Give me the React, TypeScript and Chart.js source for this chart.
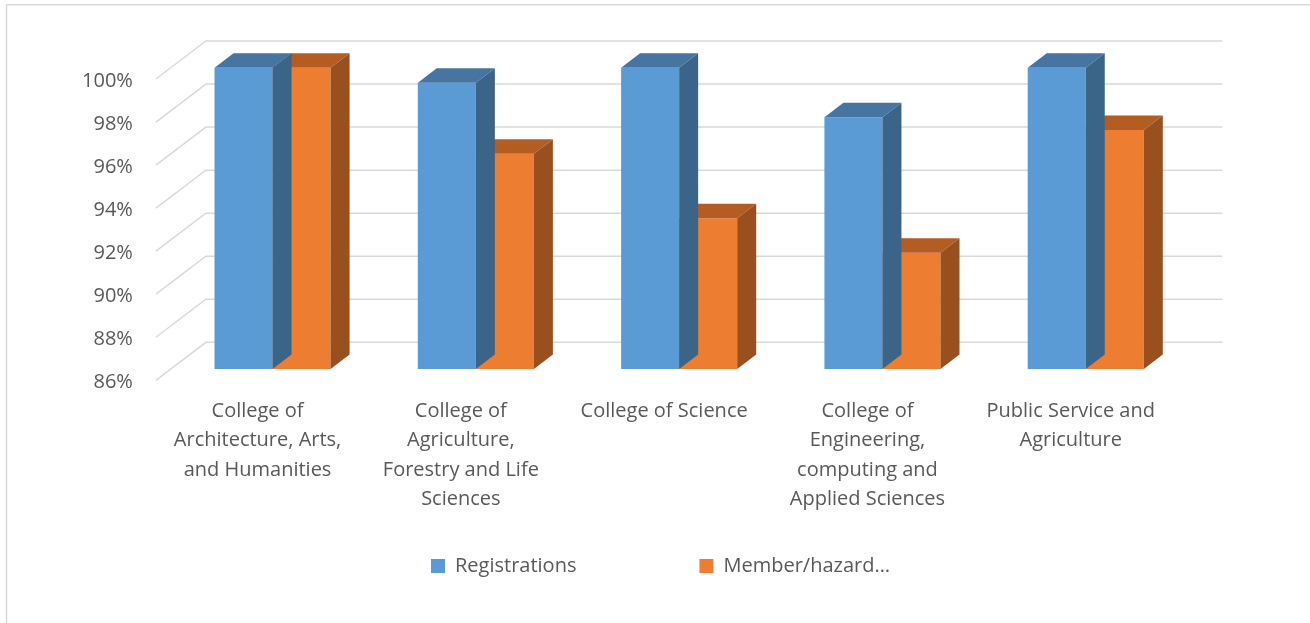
import React, { useEffect, useRef } from 'react';
import { Chart, registerables } from 'chart.js';

Chart.register(...registerables);

// ---- data ----
const categories: string[][] = [
  ['College of', 'Architecture, Arts,', 'and Humanities'],
  ['College of', 'Agriculture,', 'Forestry and Life', 'Sciences'],
  ['College of Science'],
  ['College of', 'Engineering,', 'computing and', 'Applied Sciences'],
  ['Public Service and', 'Agriculture'],
];
const registrations = [100, 99.3, 100, 97.7, 100];
const memberHazard = [100, 96.0, 93.0, 91.4, 97.1];
const seriesNames = ['Registrations', 'Member/hazard…'];
const yMin = 86;
const yMax = 100;
const yStep = 2;

// ---- styles ----
const FRONT = ['#5B9BD5', '#ED7D31'];
const TOP = ['#4675A1', '#B45D22'];
const SIDE = ['#3A6488', '#9A4F1E'];
const GRID = '#d9d9d9';
const TEXT = '#595959';
const FONT = "'Open Sans', sans-serif";

const DEPTH_DX = 19;
const DEPTH_DY = -14.5;
const BACK_DX = 35;
const BACK_DY = -26.7;
const FRONT_DX = -15;
const FRONT_DY = 11.3;

const threeD = {
  id: 'threeD',
  beforeDraw(chart: any) {
    const ctx = chart.ctx;
    ctx.save();
    ctx.strokeStyle = GRID;
    ctx.lineWidth = 1.5;
    ctx.beginPath();
    ctx.moveTo(6.5, chart.height);
    ctx.lineTo(6.5, 4.75);
    ctx.lineTo(chart.width, 4.75);
    ctx.stroke();
    ctx.restore();
  },
  beforeDatasetsDraw(chart: any) {
    const { ctx, chartArea } = chart;
    const y = chart.scales.y;
    ctx.save();
    ctx.strokeStyle = GRID;
    ctx.lineWidth = 1.5;
    y.ticks.forEach((t: any) => {
      const py = y.getPixelForValue(t.value);
      ctx.beginPath();
      ctx.moveTo(chartArea.left + FRONT_DX, py + FRONT_DY);
      ctx.lineTo(chartArea.left + BACK_DX, py + BACK_DY);
      ctx.lineTo(chartArea.right + BACK_DX, py + BACK_DY);
      ctx.stroke();
    });
    ctx.restore();
  },
  afterDatasetDraw(chart: any, args: any) {
    const i = args.index;
    const ctx = chart.ctx;
    const meta = chart.getDatasetMeta(i);
    ctx.save();
    meta.data.forEach((bar: any) => {
      const p = bar.getProps(['x', 'y', 'base', 'width'], true);
      const l = p.x - p.width / 2;
      const r = p.x + p.width / 2;
      const t = p.y;
      const b = p.base;
      // top face
      ctx.fillStyle = TOP[i];
      ctx.beginPath();
      ctx.moveTo(l, t);
      ctx.lineTo(l + DEPTH_DX, t + DEPTH_DY);
      ctx.lineTo(r + DEPTH_DX, t + DEPTH_DY);
      ctx.lineTo(r, t);
      ctx.closePath();
      ctx.fill();
      // side face
      ctx.fillStyle = SIDE[i];
      ctx.beginPath();
      ctx.moveTo(r, t);
      ctx.lineTo(r + DEPTH_DX, t + DEPTH_DY);
      ctx.lineTo(r + DEPTH_DX, b + DEPTH_DY);
      ctx.lineTo(r, b);
      ctx.closePath();
      ctx.fill();
    });
    ctx.restore();
  },
};

export default function App() {
  const canvasRef = useRef<HTMLCanvasElement | null>(null);

  useEffect(() => {
    document.body.style.margin = '0';
    document.body.style.overflow = 'hidden';
    const canvas = canvasRef.current;
    if (!canvas) return;
    const chart = new Chart(canvas, {
      type: 'bar',
      data: {
        labels: categories,
        datasets: [
          {
            label: seriesNames[0],
            data: registrations,
            backgroundColor: FRONT[0],
            borderWidth: 0,
            base: yMin,
          } as any,
          {
            label: seriesNames[1],
            data: memberHazard,
            backgroundColor: FRONT[1],
            borderWidth: 0,
            base: yMin,
          } as any,
        ],
      },
      options: {
        responsive: false,
        animation: false,
        devicePixelRatio: 1,
        layout: { padding: { top: 67.7, left: 11, right: 0, bottom: 37 } },
        datasets: { bar: { categoryPercentage: 0.571, barPercentage: 1 } },
        scales: {
          x: {
            grid: { display: false, drawTicks: false },
            border: { display: false },
            ticks: {
              color: TEXT,
              font: { family: FONT, size: 20, lineHeight: 1.475 },
              mirror: true,
              padding: -56.75,
              labelOffset: -15,
              autoSkip: false,
              maxRotation: 0,
              minRotation: 0,
            },
            afterFit(s: any) {
              s.height = 64;
            },
          },
          y: {
            min: yMin,
            max: yMax,
            grid: { display: false, drawTicks: false },
            border: { display: false },
            ticks: {
              stepSize: yStep,
              color: TEXT,
              font: { family: FONT, size: 20 },
              padding: 38,
              labelOffset: 13.5,
              callback: (v: any) => `${v}%`,
            },
            afterFit(s: any) {
              s.width = 159.9;
            },
          },
          y2: {
            position: 'right',
            display: true,
            grid: { display: false, drawTicks: false },
            border: { display: false },
            ticks: { display: false },
            afterFit(s: any) {
              s.width = 122.6;
            },
          },
        },
        plugins: {
          legend: {
            position: 'bottom',
            labels: {
              boxWidth: 14,
              boxHeight: 14,
              padding: 123,
              color: TEXT,
              font: { family: FONT, size: 20 },
            },
          },
          tooltip: { enabled: false },
        },
      } as any,
      plugins: [threeD],
    });
    return () => chart.destroy();
  }, []);

  return (
    <div style={{ width: 1310, height: 623 }}>
      <canvas ref={canvasRef} width={1310} height={623} style={{ display: 'block' }} />
    </div>
  );
}
